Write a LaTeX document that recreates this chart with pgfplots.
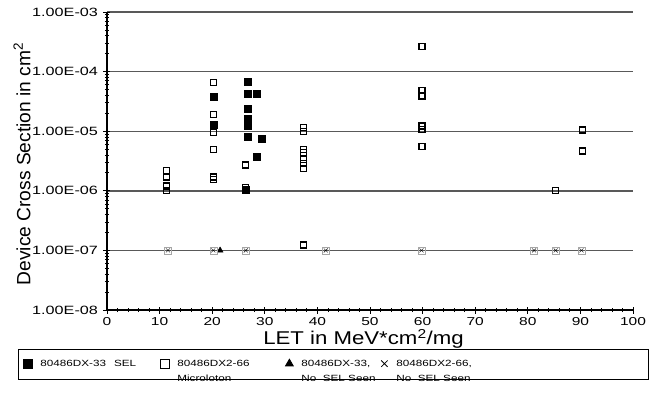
\documentclass[border=0pt]{standalone}
\usepackage{pgfplots}
\pgfplotsset{compat=1.18}
\usepackage{fontspec}
\setmainfont{Liberation Sans}[FakeStretch=1.2]
\newfontfamily\plainsans{Liberation Sans}
\newfontfamily\tickfont{Liberation Sans}[FakeStretch=1.35]
\newfontfamily\legfont{Liberation Sans}[FakeStretch=1.3]
\begin{document}
\begin{tikzpicture}
\useasboundingbox (-107pt,-86pt) rectangle (557pt,310pt);
\begin{axis}[
  scale only axis, width=526pt, height=298pt,
  at={(0pt,0pt)}, anchor=south west,
  xmin=0, xmax=100, ymode=log, ymin=1e-8, ymax=1e-3,
  axis x line*=bottom, axis y line*=left,
  axis line style={line width=1.1pt, black},
  xtick={0,10,...,100}, minor x tick num=4,
  ytick={1e-8,1e-7,1e-6,1e-5,1e-4,1e-3},
  yticklabels={1.00E-08,1.00E-07,1.00E-06,1.00E-05,1.00E-04,1.00E-03},
  ymajorgrids, major grid style={draw=black!65, line width=1.4pt},
  tick align=center, major tick length=7pt, minor tick length=4pt,
  every tick/.style={black, line width=0.8pt},
  /pgf/number format/assume math mode=true,
  yticklabel style={font=\tickfont\fontsize{12}{13}\selectfont, xshift=-2pt},
  xticklabel style={font=\tickfont\fontsize{11.5}{12}\selectfont, yshift=0pt},
  xlabel={LET in MeV*cm\textsuperscript{2}/mg},
  ylabel={Device Cross Section in cm\textsuperscript{2}},
  every axis x label/.style={at={(axis description cs:0.4876,-0.096)}, anchor=center, font=\fontsize{18.5}{20}\selectfont},
  every axis y label/.style={at={(axis description cs:-0.1616,0.49)}, rotate=90, anchor=center, font=\plainsans\fontsize{19.2}{22}\selectfont},
  clip=false,
  legend columns=4,
  legend cell align=left,
  legend image code/.code={\path[draw=none,fill=none] (0pt,0pt) -- (17pt,0pt); \draw[#1,mark size=4.5pt] plot coordinates {(7pt,3pt)};},
  legend style={at={(axis description cs:-0.1692,-0.1309)}, anchor=north west,
    draw=black, line width=0.8pt, inner xsep=3pt, inner ysep=9pt,
    cells={anchor=base west},
    font=\legfont\fontsize{9}{15}\selectfont},
]
% 80486DX-33 SEL (filled squares)
\addplot[only marks, mark=square*, mark size=3.5pt, black] coordinates {
 (20.2,3.8e-5) (20.2,1.3e-5)
 (26.8,6.8e-5) (26.8,4.2e-5) (28.5,4.2e-5) (26.8,2.4e-5)
 (26.8,1.6e-5) (26.8,1.4e-5) (26.8,1.25e-5) (26.8,8.0e-6)
 (29.4,7.4e-6) (28.5,3.8e-6) (26.4,1.05e-6)
};
\addlegendentry{\parbox[t]{116pt}{\mbox{80486DX-33\hspace{8pt}SEL}}}
% 80486DX2-66 Microloton (open squares)
\addplot[only marks, mark=square, mark size=3pt, black, mark options={line width=1.2pt}] coordinates {
 (11.3,2.2e-6) (11.3,1.7e-6) (11.3,1.2e-6) (11.3,1.0e-6)
 (20.2,6.5e-5) (20.2,1.9e-5) (20.2,9.5e-6) (20.2,4.9e-6) (20.2,1.7e-6) (20.2,1.55e-6)
 (26.4,2.7e-6) (26.4,1.15e-6)
 (37.3,1.15e-5) (37.3,9.9e-6) (37.3,5.0e-6) (37.3,4.4e-6) (37.3,3.35e-6) (37.3,2.85e-6) (37.3,2.4e-6)
 (37.3,1.23e-7)
 (59.9,2.6e-4) (59.9,4.8e-5) (59.9,3.9e-5) (59.9,1.22e-5) (59.9,1.07e-5) (59.9,5.5e-6)
 (85.2,1.0e-6)
 (90.4,1.05e-5) (90.4,4.65e-6)
};
\addlegendentry{\parbox[t]{103pt}{\mbox{80486DX2-66}\\\mbox{Microloton}}}
% 80486DX-33 No SEL seen (triangle)
\addplot[only marks, mark=triangle*, mark size=3.5pt, black] coordinates {
 (21.5,1e-7)
};
\addlegendentry{\parbox[t]{74pt}{\mbox{80486DX-33,}\\\mbox{No\ \ SEL Seen}}}
% gray boxes behind X marks
\addplot[only marks, mark=square, mark size=3.5pt, black!35, forget plot] coordinates {
 (11.6,1e-7) (20.2,1e-7) (26.4,1e-7) (41.6,1e-7) (59.8,1e-7) (81.2,1e-7) (85.3,1e-7) (90.2,1e-7)
};
% 80486DX2-66 No SEL seen (X)
\addplot[only marks, mark=x, mark size=2.8pt, black] coordinates {
 (11.6,1e-7) (20.2,1e-7) (26.4,1e-7) (41.6,1e-7) (59.8,1e-7) (81.2,1e-7) (85.3,1e-7) (90.2,1e-7)
};
\addlegendentry{\parbox[t]{247pt}{\mbox{80486DX2-66,}\\\mbox{No\ \ SEL Seen}}}
\end{axis}
\end{tikzpicture}
\end{document}
